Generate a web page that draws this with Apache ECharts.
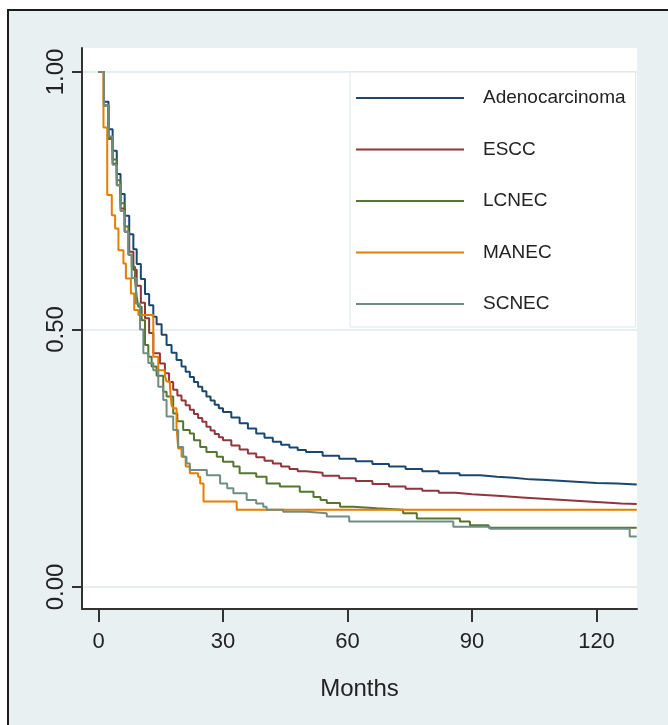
<!DOCTYPE html>
<html>
<head>
<meta charset="utf-8">
<script src="https://cdn.jsdelivr.net/npm/echarts@6/dist/echarts.min.js"></script>
<style>
  html, body { margin: 0; padding: 0; background: #ffffff; }
  #bg { position: absolute; left: 7px; top: 9px; width: 661px; height: 716px;
        border-top: 2px solid #1c1c1c; border-left: 2px solid #1c1c1c; background: #e9f0f2; box-sizing: border-box; }
  #chart { position: absolute; left: 0; top: 0; width: 668px; height: 725px; }
</style>
</head>
<body>
<div id="bg"></div>
<div id="chart"></div>
<script>
// ---- data (months, survival probability) ----
const seriesNames = ['Adenocarcinoma', 'ESCC', 'LCNEC', 'MANEC', 'SCNEC'];
const xTicks = [0, 30, 60, 90, 120];
const yTicks = [0, 0.5, 1];
const yTickLabels = ['0.00', '0.50', '1.00'];

const adenoT = [0,1.3,2.4,3.4,4.4,5.3,6.3,7.4,8.4,9.2,10.2,11.2,12.2,13.2,14,15.2,16.4,17.6,18.8,20,21,22,23,24,25,26,27,28,29,30,32,34,36,38,40,42,44,46,48,50,54,58,62,66,70,74,78,82,87,92,96,100,104,108,112,116,120,125,129.7];
const adenoS = [1,0.942,0.889,0.847,0.802,0.763,0.721,0.685,0.656,0.627,0.598,0.569,0.547,0.525,0.510,0.490,0.470,0.455,0.441,0.428,0.418,0.408,0.398,0.389,0.380,0.370,0.362,0.354,0.347,0.340,0.329,0.318,0.308,0.298,0.290,0.282,0.276,0.271,0.266,0.262,0.255,0.249,0.244,0.239,0.234,0.229,0.225,0.221,0.217,0.214,0.212,0.209,0.208,0.206,0.204,0.202,0.201,0.199,0.198];

const esccT = [0,1.3,2.4,3.4,4.4,5.3,6.3,7.4,8.4,9.2,10.2,11.2,12.2,13.2,14.8,16,17,18,19,20,21,22,23,24,25,26,27,28,29,30,32,34,36,38,40,42,44,46,48,50,54,58,62,66,70,74,78,82,86,90,94,98,102,106,110,114,118,122,126,129.7];
const esccS = [1,0.935,0.872,0.822,0.780,0.735,0.690,0.651,0.616,0.585,0.552,0.522,0.493,0.454,0.434,0.415,0.398,0.383,0.372,0.362,0.353,0.344,0.336,0.328,0.321,0.311,0.304,0.297,0.291,0.285,0.275,0.267,0.259,0.252,0.245,0.240,0.234,0.229,0.225,0.222,0.216,0.211,0.206,0.200,0.195,0.191,0.187,0.183,0.180,0.178,0.176,0.174,0.172,0.170,0.168,0.166,0.164,0.162,0.161,0.160];

const lcnecT = [0,1.3,2.4,3.4,4.4,5.3,6.3,7.2,8,8.8,9.2,9.6,10.4,11.2,12,12.8,14,15.6,16.4,18,19,20.4,22,23,24.5,26,28.5,30,32.5,34,38,40.5,43.7,48.5,51.8,53.5,55,58.2,61.4,67,73.4,76.7,87.1,89.5,94,129.7];
const lcnecS = [1,0.935,0.870,0.830,0.790,0.745,0.700,0.645,0.622,0.596,0.564,0.544,0.518,0.470,0.447,0.428,0.410,0.379,0.370,0.337,0.322,0.305,0.298,0.285,0.272,0.262,0.253,0.243,0.234,0.221,0.214,0.201,0.195,0.185,0.175,0.169,0.163,0.156,0.153,0.150,0.143,0.133,0.127,0.120,0.115,0.115];

const manecT = [0,1.2,2.1,3.2,4,4.8,6,6.6,7.8,8.6,9.6,13.2,14.4,16,16.4,17.2,17.6,18,18.8,19.2,20,21,22,24,24.5,25.3,33.3,129.7];
const manecS = [1,0.892,0.761,0.722,0.696,0.654,0.628,0.599,0.570,0.538,0.528,0.447,0.421,0.410,0.399,0.389,0.353,0.347,0.311,0.269,0.253,0.234,0.221,0.214,0.201,0.166,0.150,0.150];

const scnecT = [0,1.3,2.4,3.4,4.4,5.3,6.3,7.2,8,9,10,10.8,12,13.2,14.4,15.6,16.4,18,19.2,20.4,21.2,22,26.1,29.3,31,32.5,35.7,38,39.7,40.5,44.5,50.2,55,60.4,85.5,94.3,128,129.7];
const scnecS = [1,0.935,0.875,0.820,0.780,0.730,0.690,0.645,0.600,0.550,0.500,0.454,0.435,0.421,0.389,0.363,0.331,0.305,0.272,0.253,0.240,0.227,0.217,0.201,0.192,0.182,0.169,0.162,0.156,0.150,0.146,0.143,0.137,0.127,0.117,0.113,0.098,0.098];

const colors = ['#1a476f', '#90353b', '#55752f', '#e37e00', '#6e8e84'];

function pairs(t, s) { return t.map((v, i) => [v, s[i]]); }
const allData = [pairs(adenoT, adenoS), pairs(esccT, esccS), pairs(lcnecT, lcnecS), pairs(manecT, manecS), pairs(scnecT, scnecS)];

const font = "'Liberation Sans', Arial, sans-serif";

const chart = echarts.init(document.getElementById('chart'), null, { renderer: 'canvas' });
chart.setOption({
  backgroundColor: 'transparent',
  animation: false,
  grid: { left: 82, top: 48, right: 31, bottom: 116, show: true, backgroundColor: '#ffffff', borderWidth: 0 },
  legend: {
    orient: 'vertical',
    left: 350, top: 72,
    padding: [14, 10, 11, 6],
    backgroundColor: '#ffffff',
    borderColor: '#dfe7ea',
    borderWidth: 1,
    icon: 'rect',
    itemWidth: 108,
    itemHeight: 2,
    itemGap: 27.5,
    data: seriesNames,
    textStyle: { fontFamily: font, fontSize: 19, color: '#222', lineHeight: 24, padding: [0, 0, 0, 14] }
  },
  xAxis: {
    type: 'value', min: -3.98, max: 129.76,
    name: 'Months', nameLocation: 'middle', nameGap: 68,
    nameTextStyle: { fontFamily: font, fontSize: 24, color: '#222' },
    axisLine: { show: true, onZero: false, lineStyle: { color: '#333', width: 2 } },
    axisTick: { show: true, length: 13, customValues: xTicks, lineStyle: { color: '#333', width: 2 } },
    axisLabel: { customValues: xTicks, margin: 22, fontFamily: font, fontSize: 22, color: '#222' },
    splitLine: { show: false }
  },
  yAxis: {
    type: 'value', min: -0.0427, max: 1.0466,
    axisLine: { show: true, onZero: false, lineStyle: { color: '#333', width: 2 } },
    axisTick: { show: true, length: 10, customValues: yTicks, lineStyle: { color: '#333', width: 2 } },
    axisLabel: { customValues: yTicks, rotate: 90, margin: 14, fontFamily: font, fontSize: 24, color: '#222',
      formatter: v => yTickLabels[yTicks.indexOf(Math.round(v * 100) / 100)] },
    splitLine: { show: true, lineStyle: { color: '#e6eef1', width: 2 } }
  },
  series: seriesNames.map((n, i) => ({
    name: n, type: 'line', step: 'end', symbol: 'none',
    data: allData[i],
    color: colors[i],
    lineStyle: { color: colors[i], width: 2 }
  }))
});
</script>
</body>
</html>
